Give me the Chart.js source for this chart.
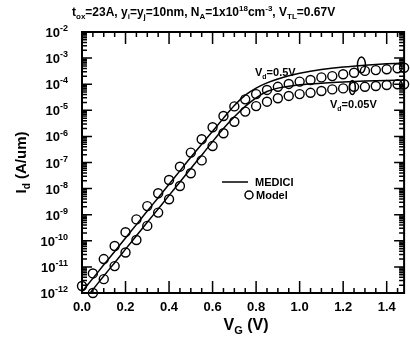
<!DOCTYPE html>
<html>
<head>
<meta charset="utf-8">
<script src="https://cdn.jsdelivr.net/npm/chart.js@4.4.0/dist/chart.umd.min.js"></script>
<style>
html, body { margin: 0; padding: 0; background: #fff; }
</style>
</head>
<body>
<canvas id="c" width="410" height="337"></canvas>
<script>
// gate voltage (V) and log10(Id)
var vgMedici05 = [0, 0.05, 0.1, 0.15, 0.2, 0.25, 0.3, 0.35, 0.4, 0.45, 0.5, 0.55, 0.6, 0.65, 0.7, 0.75, 0.8, 0.85, 0.9, 0.95, 1.0, 1.1, 1.2, 1.3, 1.4, 1.48];
var logIdMedici05 = [-11.95, -11.44, -10.92, -10.41, -9.89, -9.38, -8.86, -8.35, -7.83, -7.32, -6.8, -6.3, -5.8, -5.3, -4.82, -4.42, -4.15, -3.95, -3.8, -3.68, -3.58, -3.44, -3.34, -3.27, -3.22, -3.19];

var vgMedici005 = [0.04, 0.1, 0.15, 0.2, 0.25, 0.3, 0.35, 0.4, 0.45, 0.5, 0.55, 0.6, 0.65, 0.7, 0.75, 0.8, 0.85, 0.9, 0.95, 1.0, 1.1, 1.2, 1.3, 1.4, 1.48];
var logIdMedici005 = [-11.97, -11.35, -10.84, -10.32, -9.81, -9.29, -8.78, -8.26, -7.75, -7.23, -6.72, -6.2, -5.7, -5.25, -4.85, -4.52, -4.28, -4.15, -4.08, -4.02, -3.96, -3.92, -3.88, -3.86, -3.84];

var vgModel = [0, 0.05, 0.1, 0.15, 0.2, 0.25, 0.3, 0.35, 0.4, 0.45, 0.5, 0.55, 0.6, 0.65, 0.7, 0.75, 0.8, 0.85, 0.9, 0.95, 1.0, 1.05, 1.1, 1.15, 1.2, 1.25, 1.3, 1.35, 1.4, 1.45, 1.48];
var logIdModel05 = [-11.73, -11.25, -10.7, -10.2, -9.67, -9.18, -8.67, -8.18, -7.67, -7.16, -6.62, -6.11, -5.65, -5.22, -4.85, -4.58, -4.38, -4.22, -4.1, -3.99, -3.9, -3.84, -3.74, -3.69, -3.62, -3.56, -3.49, -3.46, -3.43, -3.39, -3.37];
var logIdModel005 = [null, -12.0, -11.47, -10.97, -10.45, -9.97, -9.43, -8.92, -8.41, -7.9, -7.41, -6.92, -6.37, -5.88, -5.44, -5.05, -4.84, -4.67, -4.54, -4.45, -4.38, -4.33, -4.26, -4.2, -4.16, -4.1, -4.1, -4.07, -4.03, -4.0, -4.0];

var xTicks = [0, 0.2, 0.4, 0.6, 0.8, 1.0, 1.2, 1.4];
var yDecades = [-12, -11, -10, -9, -8, -7, -6, -5, -4, -3, -2];

var FONT = "'Liberation Sans', Arial, sans-serif";

function points(xs, logs) {
    var out = [];
    for (var i = 0; i < xs.length; i++) {
        if (logs[i] === null) continue;
        out.push({ x: xs[i], y: Math.pow(10, logs[i]) });
    }
    return out;
}

// draws text with sub (-1) / superscripts (1), parts = [[text, level], ...]
function rich(ctx, parts, x, y, size, align) {
    var small = Math.round(size * 0.68);
    var w = 0;
    for (var i = 0; i < parts.length; i++) {
        ctx.font = "bold " + (parts[i][1] ? small : size) + "px " + FONT;
        w += ctx.measureText(parts[i][0]).width;
    }
    var cx = x;
    if (align == "right") cx = x - w;
    if (align == "center") cx = x - w / 2;
    ctx.textBaseline = "alphabetic";
    ctx.textAlign = "left";
    for (var i = 0; i < parts.length; i++) {
        var lvl = parts[i][1];
        ctx.font = "bold " + (lvl ? small : size) + "px " + FONT;
        var dy = lvl == 1 ? -size * 0.45 : (lvl == -1 ? size * 0.25 : 0);
        ctx.fillText(parts[i][0], cx, y + dy);
        cx += ctx.measureText(parts[i][0]).width;
    }
}

var decorations = {
    id: "decorations",
    afterDraw: function (chart) {
        var ctx = chart.ctx;
        var a = chart.chartArea;
        var xs = chart.scales.x, ys = chart.scales.y;
        ctx.save();
        ctx.strokeStyle = "#000";
        ctx.fillStyle = "#000";

        // frame
        ctx.lineWidth = 2;
        ctx.strokeRect(a.left, a.top, a.right - a.left, a.bottom - a.top);

        // x ticks, inward on bottom and top
        ctx.lineWidth = 1.5;
        for (var v = 0; v <= 1.48 + 1e-9; v += 0.05) {
            var px = xs.getPixelForValue(v);
            var major = Math.abs(v / 0.2 - Math.round(v / 0.2)) < 1e-6;
            var len = major ? 12 : 5;
            ctx.beginPath();
            ctx.moveTo(px, a.bottom); ctx.lineTo(px, a.bottom - len);
            ctx.moveTo(px, a.top); ctx.lineTo(px, a.top + len);
            ctx.stroke();
        }
        // y ticks, log minor
        for (var k = 0; k < yDecades.length; k++) {
            for (var m = 1; m <= 9; m++) {
                if (k == yDecades.length - 1 && m > 1) break;
                var py = ys.getPixelForValue(m * Math.pow(10, yDecades[k]));
                var len = m == 1 ? 10 : 5;
                ctx.beginPath();
                ctx.moveTo(a.left, py); ctx.lineTo(a.left + len, py);
                ctx.moveTo(a.right, py); ctx.lineTo(a.right - len, py);
                ctx.stroke();
            }
        }

        // y tick labels
        for (var k = 0; k < yDecades.length; k++) {
            var py = ys.getPixelForValue(Math.pow(10, yDecades[k]));
            rich(ctx, [["10", 0], [String(yDecades[k]), 1]], a.left - 14, py + 5, 13, "right");
        }

        // titles
        rich(ctx, [["t", 0], ["ox", -1], ["=23A, y", 0], ["i", -1], ["=y", 0], ["j", -1], ["=10nm, N", 0], ["A", -1],
            ["=1x10", 0], ["18", 1], ["cm", 0], ["-3", 1], [", V", 0], ["TL", -1], ["=0.67V", 0]], 72, 16, 12, "left");
        rich(ctx, [["V", 0], ["G", -1], [" (V)", 0]], (a.left + a.right) / 2 + 3, 330, 16, "center");
        ctx.save();
        ctx.translate(26, (a.top + a.bottom) / 2);
        ctx.rotate(-Math.PI / 2);
        rich(ctx, [["I", 0], ["d", -1], [" (A/um)", 0]], 0, 0, 15, "center");
        ctx.restore();

        // curve labels and grouping ellipses
        rich(ctx, [["V", 0], ["d", -1], ["=0.5V", 0]], 255, 76, 11, "left");
        rich(ctx, [["V", 0], ["d", -1], ["=0.05V", 0]], 330, 108, 11, "left");
        ctx.lineWidth = 1.5;
        ctx.beginPath();
        ctx.ellipse(xs.getPixelForValue(1.284), ys.getPixelForValue(Math.pow(10, -3.26)), 4, 8, 0, 0, Math.PI * 2);
        ctx.stroke();
        ctx.beginPath();
        ctx.ellipse(xs.getPixelForValue(1.242), ys.getPixelForValue(Math.pow(10, -4.13)), 3, 7, 0, 0, Math.PI * 2);
        ctx.stroke();

        // legend
        ctx.lineWidth = 1.5;
        ctx.beginPath();
        ctx.moveTo(222, 182); ctx.lineTo(248, 182);
        ctx.stroke();
        ctx.beginPath();
        ctx.arc(249, 195, 4, 0, Math.PI * 2);
        ctx.stroke();
        rich(ctx, [["MEDICI", 0]], 255, 186, 11, "left");
        rich(ctx, [["Model", 0]], 256, 199, 11, "left");
        ctx.restore();
    }
};

var lineStyle = { showLine: true, borderColor: "#000", borderWidth: 1.5, pointRadius: 0, fill: false, tension: 0.2 };
var circleStyle = { showLine: false, pointStyle: "circle", pointRadius: 4.5, pointBorderWidth: 1.4,
    pointBorderColor: "#000", pointBackgroundColor: "rgba(0,0,0,0)", clip: 6 };

new Chart(document.getElementById("c"), {
    type: "scatter",
    data: {
        datasets: [
            Object.assign({ label: "MEDICI Vd=0.5V", data: points(vgMedici05, logIdMedici05) }, lineStyle),
            Object.assign({ label: "MEDICI Vd=0.05V", data: points(vgMedici005, logIdMedici005) }, lineStyle),
            Object.assign({ label: "Model Vd=0.5V", data: points(vgModel, logIdModel05) }, circleStyle),
            Object.assign({ label: "Model Vd=0.05V", data: points(vgModel, logIdModel005) }, circleStyle)
        ]
    },
    options: {
        responsive: false,
        animation: false,
        devicePixelRatio: 1,
        layout: { padding: { top: 32, right: 5, left: 0, bottom: 0 } },
        plugins: { legend: { display: false }, tooltip: { enabled: false }, title: { display: false } },
        scales: {
            x: {
                type: "linear", min: 0, max: 1.48,
                grid: { display: false, drawTicks: false },
                border: { display: false },
                afterBuildTicks: function (scale) {
                    scale.ticks = xTicks.map(function (v) { return { value: v }; });
                },
                afterFit: function (scale) { scale.height = 44; },
                ticks: {
                    padding: 7, color: "#000", maxRotation: 0, autoSkip: false,
                    font: { family: FONT, size: 13, weight: "bold" },
                    callback: function (v) { return Number(v).toFixed(1); }
                }
            },
            y: {
                type: "logarithmic", min: 1e-12, max: 1e-2,
                grid: { display: false, drawTicks: false },
                border: { display: false },
                ticks: { display: false },
                afterFit: function (scale) { scale.width = 82; }
            }
        }
    },
    plugins: [decorations]
});
</script>
</body>
</html>
